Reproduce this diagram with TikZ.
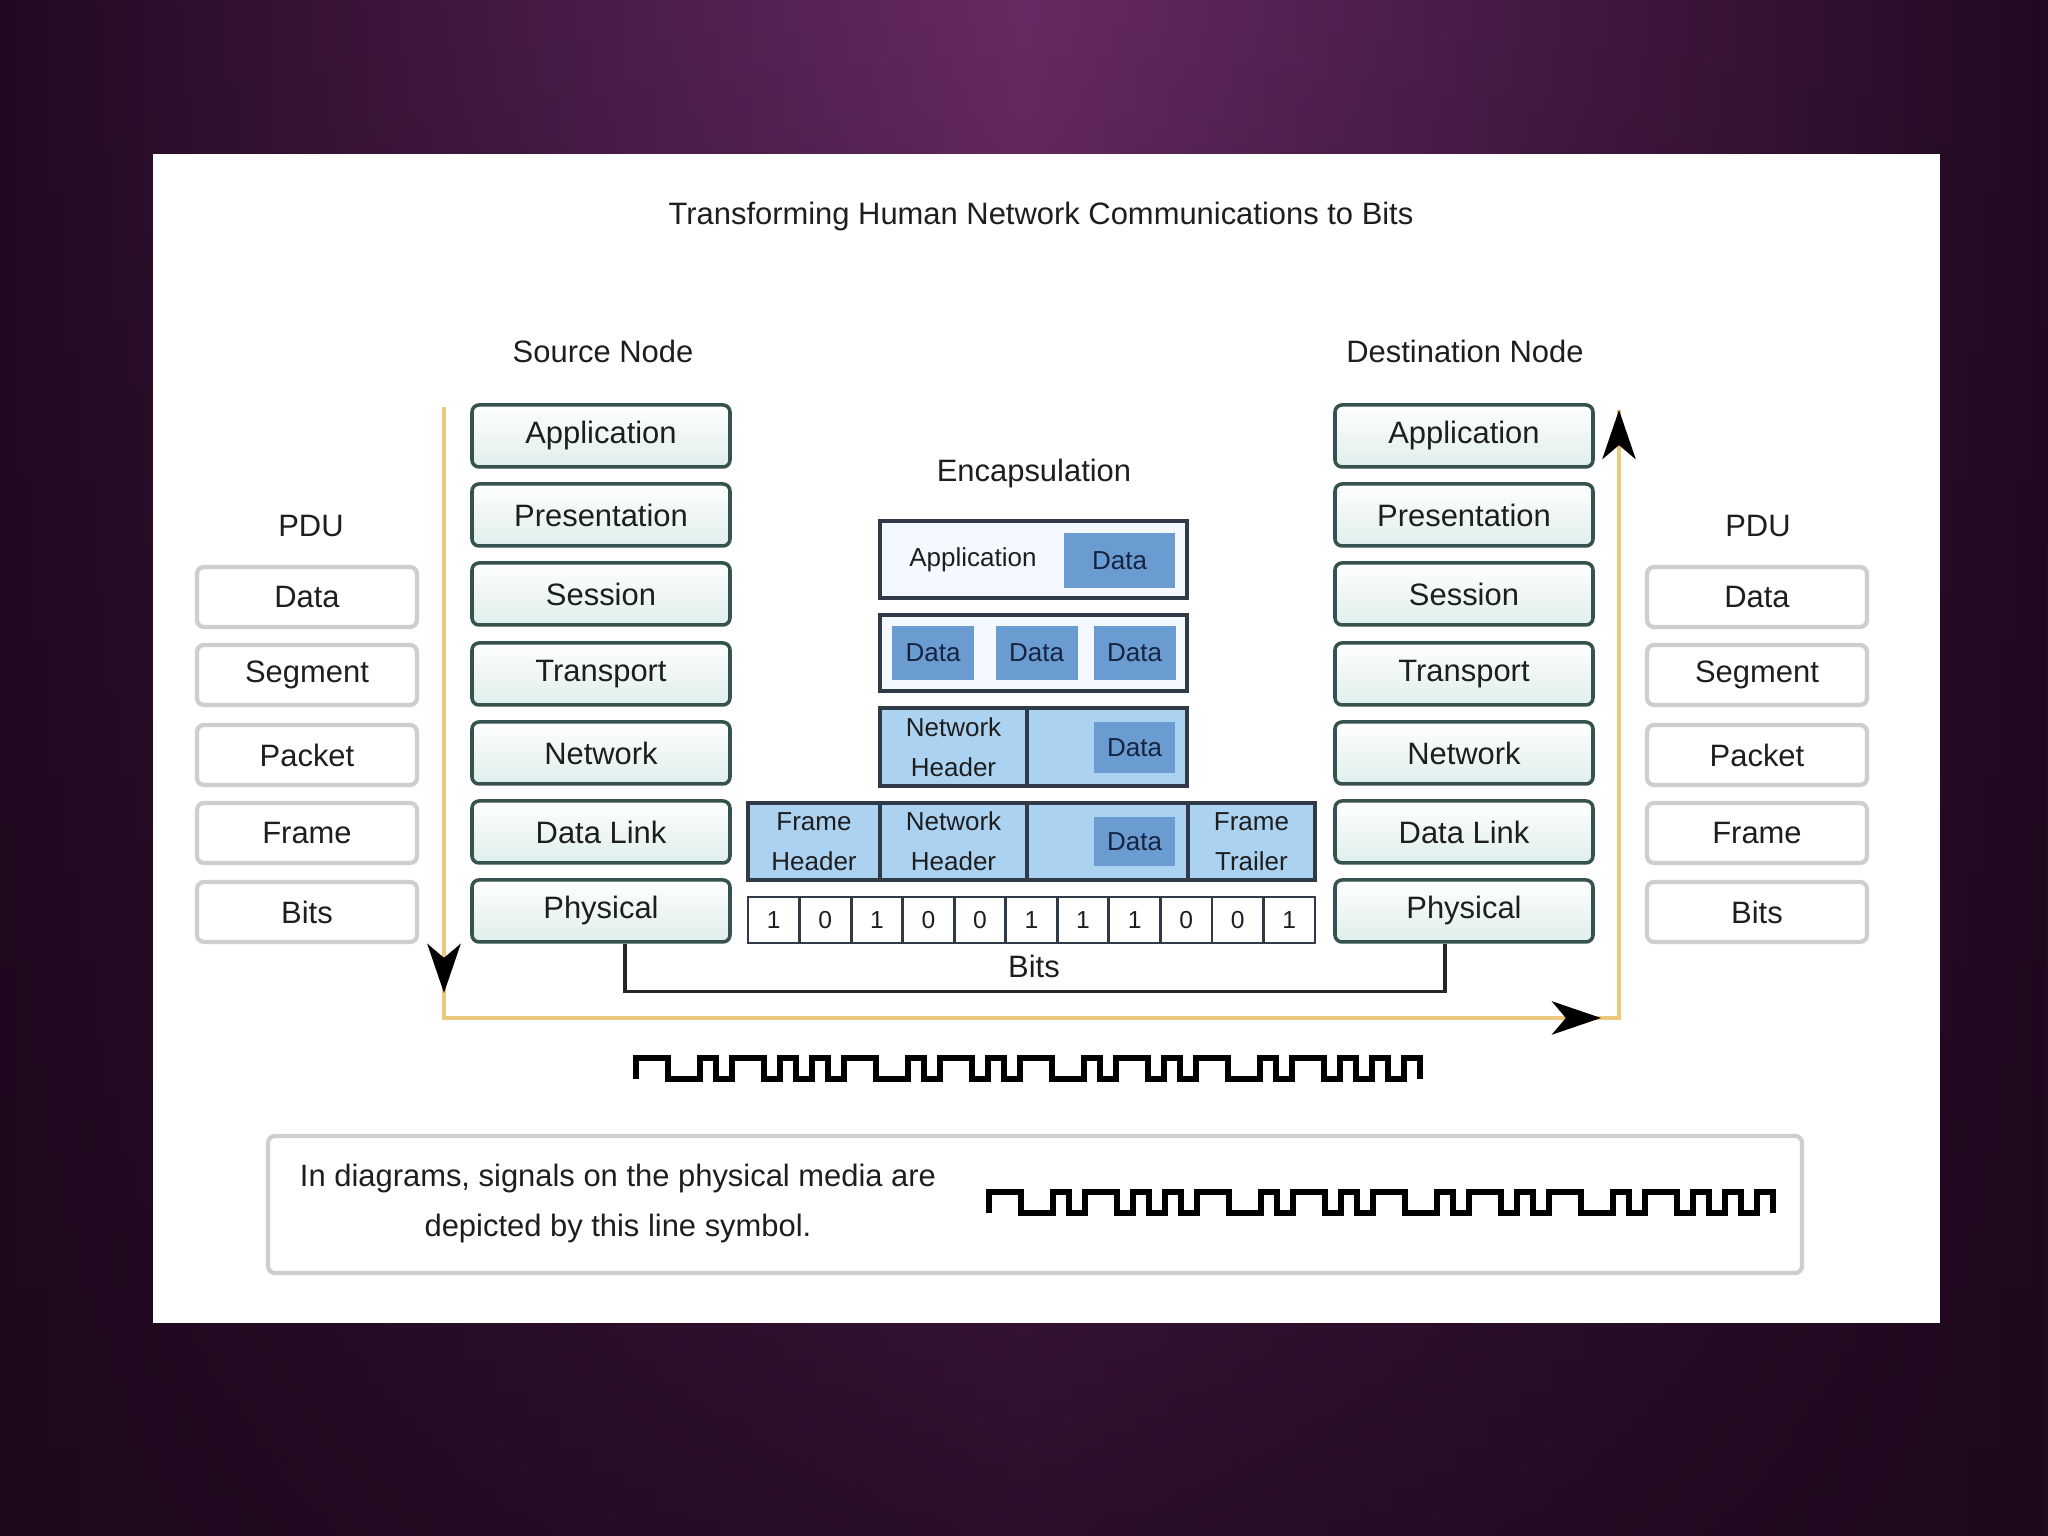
\documentclass[tikz,border=0pt]{standalone}
\usepackage{fontspec}
\setmainfont{Liberation Sans}
\usetikzlibrary{arrows.meta,decorations.markings,fadings}
\definecolor{slideedge}{RGB}{34,10,34}
\definecolor{slidemid}{RGB}{104,42,100}
\definecolor{slidedark}{RGB}{28,8,28}
\definecolor{layerline}{RGB}{54,82,78}
\definecolor{layerfill}{RGB}{222,238,236}
\definecolor{pduline}{RGB}{206,206,206}
\definecolor{goldline}{RGB}{234,200,124}
\definecolor{encline}{RGB}{48,58,72}
\definecolor{segfill}{RGB}{244,249,255}
\definecolor{hdrblue}{RGB}{172,210,242}
\definecolor{datablue}{RGB}{106,156,210}
\definecolor{datatext}{RGB}{22,36,64}
\definecolor{inktext}{RGB}{30,30,30}
\tikzset{
  wave/.style={draw=black,line width=1.8pt,line join=miter},
  pics/signal/.style={code={
    \draw[wave] (0,0) -- (0,0.21)
      \foreach \sw [count=\k] in {2,2,1,1,2,1,1,1,1,1,2,2,1,1,2,1,1,1,2,2,1,1,2,1,1,1,2,2,1,1,2,1,1,1,1,1,1}
        { -- ++(\sw*0.16,0) -- ++(0,{ifthenelse(isodd(\k),-0.21,0.21)}) };
  }}
}

\begin{document}
\begin{tikzpicture}[
    font=\fontsize{8.8}{10.5}\selectfont, text=inktext,
    lbl/.style={inner sep=1pt},
    layer/.style={draw=layerline,line width=1pt,rounded corners=2pt,top color=white,bottom color=layerfill,minimum width=2.58cm,minimum height=0.62cm,inner sep=0pt},
    pdu/.style={draw=pduline,line width=1.2pt,rounded corners=2pt,fill=white,minimum width=2.2cm,minimum height=0.6cm,inner sep=0pt},
    seg/.style={draw=encline,line width=0.9pt,fill=segfill,inner sep=0pt},
    hdr/.style={draw=encline,line width=0.9pt,fill=hdrblue,inner sep=0pt,align=center,font=\fontsize{7.4}{11.5}\selectfont},
    dat/.style={fill=datablue,text=datatext,inner sep=0pt,font=\fontsize{7.4}{9}\selectfont},
    bit/.style={draw=encline,line width=0.8pt,fill=white,minimum width=0.5155cm,minimum height=0.46cm,inner sep=0pt,font=\fontsize{7}{8}\selectfont},
    bracket/.style={draw=black!85,line width=0.9pt},
    legendbox/.style={draw=pduline,line width=1.2pt,rounded corners=2pt,fill=white,minimum width=15.34cm,minimum height=1.37cm},
    gold/.style={draw=goldline,line width=1.1pt,postaction={decorate,decoration={markings,
      mark=at position 5.86cm with {\arrow{Stealth[color=black,length=14pt,width=9.5pt,inset=4pt]}},
      mark=at position 17.68cm with {\arrow{Stealth[color=black,length=14pt,width=9.5pt,inset=4pt]}},
      mark=at position 1 with {\arrow{Stealth[color=black,length=14pt,width=9.5pt,inset=4pt]}}}}}
  ]
  \useasboundingbox (0,0) rectangle (20.48,15.36);
  \shade[left color=slideedge,right color=slideedge,middle color=slidemid] (0,0) rectangle (20.48,15.36);
  \fill[slidedark,path fading=north,fill opacity=0.8] (0,0) rectangle (20.48,15.36);
  \fill[white] (1.53,2.13) rectangle (19.40,13.82);

  \node[lbl] (title) at (10.41,13.19) {Transforming Human Network Communications to Bits};
  \node[lbl] (srclbl) at (6.03,11.85) {Source Node};
  \node[lbl] (dstlbl) at (14.65,11.85) {Destination Node};
  \node[lbl] (enclbl) at (10.34,10.62) {Encapsulation};
  \node[lbl] (pdul) at (3.11,10.10) {PDU};
  \node[lbl] (pdur) at (17.58,10.10) {PDU};

  \node[layer] (sapp) at (6.01,11.00) {Application};
  \node[layer] (spre) at (6.01,10.21) {Presentation};
  \node[layer] (sses) at (6.01,9.42) {Session};
  \node[layer] (stra) at (6.01,8.62) {Transport};
  \node[layer] (snet) at (6.01,7.83) {Network};
  \node[layer] (sdl) at (6.01,7.04) {Data Link};
  \node[layer] (sphy) at (6.01,6.25) {Physical};

  \node[layer] (dapp) at (14.64,11.00) {Application};
  \node[layer] (dpre) at (14.64,10.21) {Presentation};
  \node[layer] (dses) at (14.64,9.42) {Session};
  \node[layer] (dtra) at (14.64,8.62) {Transport};
  \node[layer] (dnet) at (14.64,7.83) {Network};
  \node[layer] (ddl) at (14.64,7.04) {Data Link};
  \node[layer] (dphy) at (14.64,6.25) {Physical};

  \node[pdu] (ldata) at (3.07,9.39) {Data};
  \node[pdu] (lseg) at (3.07,8.61) {Segment};
  \node[pdu] (lpkt) at (3.07,7.81) {Packet};
  \node[pdu] (lfrm) at (3.07,7.03) {Frame};
  \node[pdu] (lbits) at (3.07,6.24) {Bits};

  \node[pdu] (rdata) at (17.57,9.39) {Data};
  \node[pdu] (rseg) at (17.57,8.61) {Segment};
  \node[pdu] (rpkt) at (17.57,7.81) {Packet};
  \node[pdu] (rfrm) at (17.57,7.03) {Frame};
  \node[pdu] (rbits) at (17.57,6.24) {Bits};

  \node[seg,minimum width=3.07cm,minimum height=0.77cm] (seg1) at (10.335,9.765) {};
  \node[lbl,font=\fontsize{7.4}{9}\selectfont] (app1) at (9.73,9.76) {Application};
  \node[dat,minimum width=1.11cm,minimum height=0.55cm] (dat1) at (11.195,9.755) {Data};

  \node[seg,minimum width=3.07cm,minimum height=0.76cm] (seg2) at (10.335,8.83) {};
  \node[dat,minimum width=0.82cm,minimum height=0.54cm] (dat2a) at (9.33,8.83) {Data};
  \node[dat,minimum width=0.82cm,minimum height=0.54cm] (dat2b) at (10.365,8.83) {Data};
  \node[dat,minimum width=0.82cm,minimum height=0.54cm] (dat2c) at (11.345,8.83) {Data};

  \node[hdr,minimum width=1.47cm,minimum height=0.78cm] (nh3) at (9.535,7.89) {Network\\Header};
  \node[hdr,minimum width=1.60cm,minimum height=0.78cm] (pl3) at (11.07,7.89) {};
  \node[dat,minimum width=0.81cm,minimum height=0.51cm] (dat3) at (11.345,7.885) {Data};

  \node[hdr,minimum width=1.32cm,minimum height=0.77cm] (fh4) at (8.14,6.945) {Frame\\Header};
  \node[hdr,minimum width=1.47cm,minimum height=0.77cm] (nh4) at (9.535,6.945) {Network\\Header};
  \node[hdr,minimum width=1.61cm,minimum height=0.77cm] (pl4) at (11.075,6.945) {};
  \node[hdr,minimum width=1.27cm,minimum height=0.77cm] (ft4) at (12.515,6.945) {Frame\\Trailer};
  \node[dat,minimum width=0.81cm,minimum height=0.49cm] (dat4) at (11.345,6.945) {Data};

  \foreach \b [count=\i] in {1,0,1,0,0,1,1,1,0,0,1}
    \node[bit] (bit\i) at ({7.48+0.5155*(\i-0.5)},6.16) {\b};

  \node[lbl] (bitslbl) at (10.34,5.70) {Bits};
  \draw[bracket] ([xshift=0.24cm]sphy.south) -- ++(0,-0.48) -| ([xshift=-0.19cm]dphy.south);

  \coordinate (gtop) at (4.44,11.29);
  \coordinate (gbl) at (4.44,5.18);
  \coordinate (gbr) at (16.19,5.18);
  \coordinate (gend) at (16.19,11.26);
  \draw[gold] (gtop) -- (gbl) -- (gbr) -- (gend);

  \pic (sigtop) at (6.36,4.57) {signal};

  \node[legendbox] (legend) at (10.35,3.315) {};
  \node[lbl,align=center,font=\fontsize{8.8}{14}\selectfont] (legtxt) at (6.18,3.325) {In diagrams, signals on the physical media are\\depicted by this line symbol.};
  \pic (siglegend) at (9.89,3.23) {signal};
\end{tikzpicture}
\end{document}
